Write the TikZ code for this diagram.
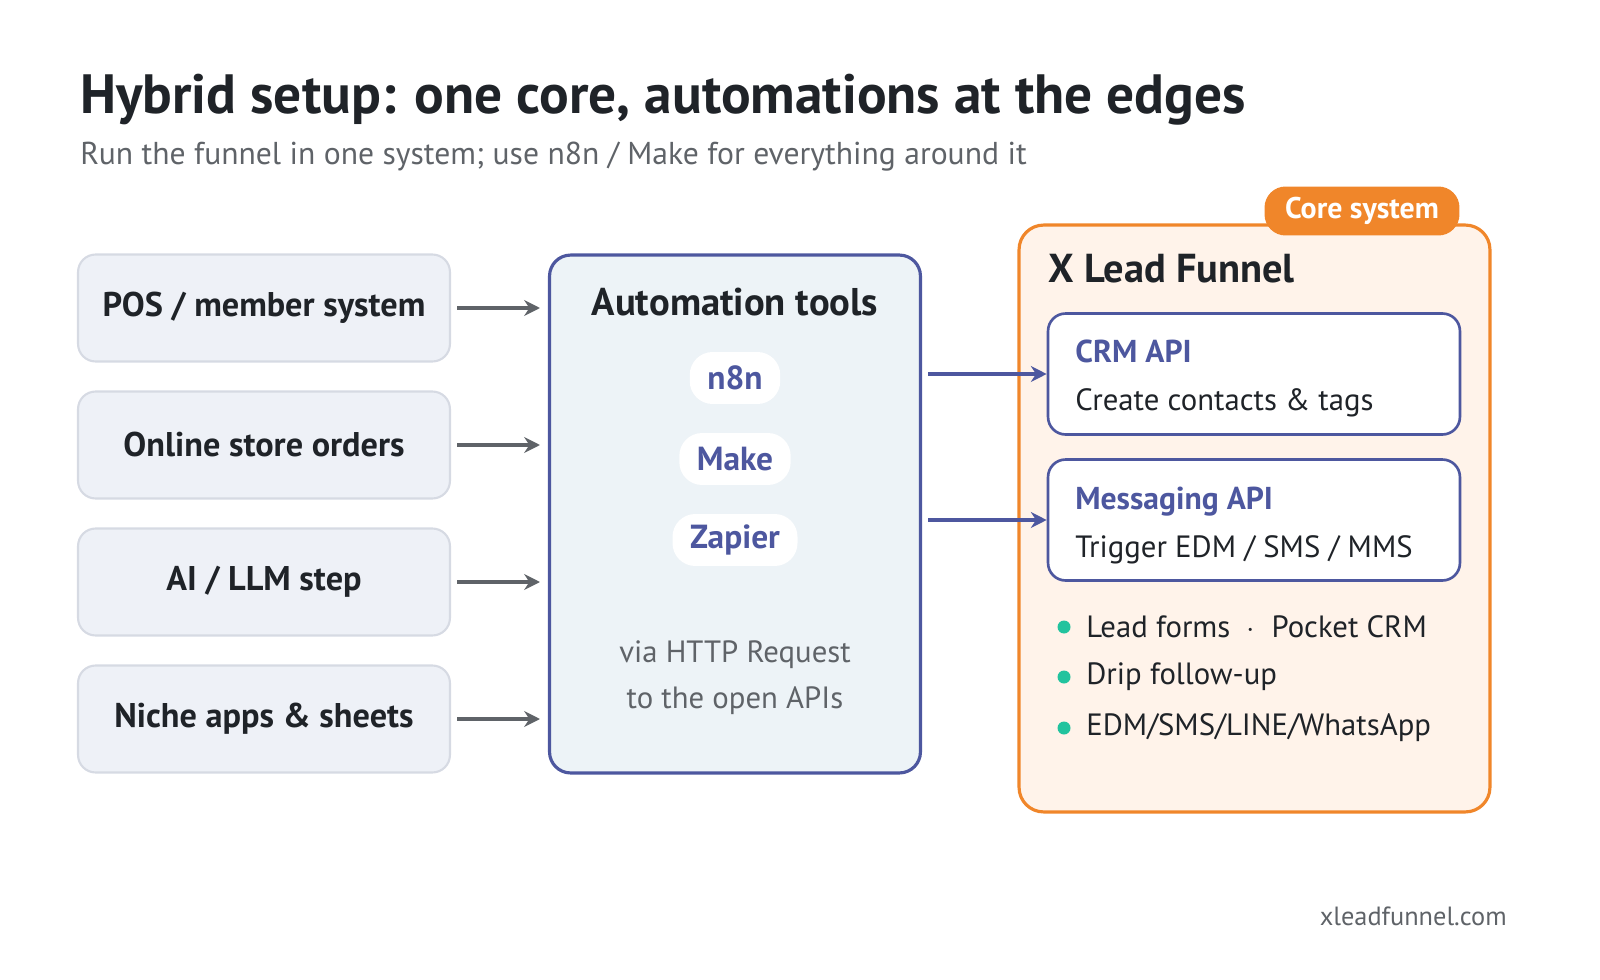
\documentclass[tikz,border=0pt]{standalone}
\usepackage{fontspec}
\setmainfont{PT Sans}
\usetikzlibrary{positioning,arrows.meta}
\definecolor{ink}{HTML}{1F2328}
\definecolor{greytxt}{HTML}{5F6368}
\definecolor{srcfill}{HTML}{EEF1F7}
\definecolor{srcline}{HTML}{D6DAE3}
\definecolor{autofill}{HTML}{EDF3F7}
\definecolor{indigo}{HTML}{4D579F}
\definecolor{corefill}{HTML}{FFF3EA}
\definecolor{coreline}{HTML}{F0862A}
\definecolor{dotgreen}{HTML}{22C39E}
\tikzset{
  src/.style={draw=srcline, line width=1.2pt, fill=srcfill, rounded corners=10pt,
    minimum width=7.44cm, minimum height=2.14cm, font=\fontsize{19.5}{22}\selectfont\bfseries, text=ink},
  pill/.style={fill=white, rounded corners=13pt, minimum height=1.04cm, inner xsep=10pt,
    font=\fontsize{19}{22}\selectfont\bfseries, text=indigo},
  api/.style={draw=indigo, line width=1.5pt, fill=white, rounded corners=10pt,
    minimum width=8.24cm, minimum height=2.42cm},
  garrow/.style={draw=greytxt, line width=2.2pt, -{Stealth[length=9pt,width=9pt]}},
  barrow/.style={draw=indigo, line width=2.2pt, -{Stealth[length=9pt,width=9pt]}},
  body/.style={font=\fontsize{17.5}{21}\selectfont, text=ink, anchor=base west},
}
\begin{document}
\begin{tikzpicture}[x=0.02cm,y=-0.02cm]
\useasboundingbox (0,0) rectangle (1600,980);
% heading
\node[anchor=base west, inner sep=0, font=\fontsize{31.5}{36}\selectfont\bfseries, text=ink] (title) at (80,113) {Hybrid setup: one core, automations at the edges};
\node[anchor=base west, inner sep=0, font=\fontsize{18}{21}\selectfont, text=greytxt] (subtitle) at (80,165) {Run the funnel in one system; use n8n / Make for everything around it};
% sources
\node[src] (pos) at (264,308) {POS / member system};
\node[src] (store) at (264,445) {Online store orders};
\node[src] (ai) at (264,582) {AI / LLM step};
\node[src] (niche) at (264,719) {Niche apps \& sheets};
% automation tools
\node[draw=indigo, line width=1.8pt, fill=autofill, rounded corners=12pt, minimum width=7.42cm, minimum height=10.36cm] (auto) at (735,514) {};
\node[font=\fontsize{22}{26}\selectfont\bfseries, text=ink] (autotitle) at (735,302) {Automation tools};
\node[pill] (n8n) at (735,378) {n8n};
\node[pill] (make) at (735,459) {Make};
\node[pill] (zapier) at (735,540) {Zapier};
\node[align=center, font=\fontsize{17.5}{26}\selectfont, text=greytxt] (http) at (735,678) {via HTTP Request\\to the open APIs};
\foreach \s/\y in {pos/308,store/445,ai/582,niche/719}
  \draw[garrow] (\s.east) ++(6,0) coordinate (\s-out) -- (540,\y) coordinate (\s-in);
% core system
\node[draw=coreline, line width=1.8pt, fill=corefill, rounded corners=14pt, minimum width=9.42cm, minimum height=11.74cm] (core) at (1254.5,518.5) {};
\node[fill=coreline, rounded corners=12pt, minimum width=3.9cm, minimum height=0.98cm, text=white, font=\fontsize{17}{20}\selectfont\bfseries] (badge) at (1362,211) {Core system};
\node[anchor=base west, inner sep=0, font=\fontsize{23}{26}\selectfont\bfseries, text=ink] (brand) at (1048,282) {X Lead Funnel};
\node[api] (crm) at (1254,374) {};
\node[anchor=base west, inner sep=0, font=\fontsize{18}{21}\selectfont\bfseries, text=indigo] (crmtitle) at (1075,362) {CRM API};
\node[body, inner sep=0] (crmtext) at (1075,410) {Create contacts \& tags};
\node[api] (msg) at (1254,520) {};
\node[anchor=base west, inner sep=0, font=\fontsize{18}{21}\selectfont\bfseries, text=indigo] (msgtitle) at (1075,509) {Messaging API};
\node[body, inner sep=0] (msgtext) at (1075,557) {Trigger EDM / SMS / MMS};
\draw[barrow] (auto.east |- crm) ++(6,0) -- (crm.west);
\draw[barrow] (auto.east |- msg) ++(6,0) -- (msg.west);
% feature list
\foreach \t/\y [count=\i] in {{Lead forms \ $\cdot$\ \ Pocket CRM}/627,{Drip follow-up}/677,{EDM/SMS/LINE/WhatsApp}/728}{
  \fill[dotgreen] (1064,\y) circle (6.5);
  \node[body, inner sep=0, anchor=west] (feat\i) at (1086,\y) {\t};
}
\node[anchor=base east, inner sep=0, font=\fontsize{15}{18}\selectfont, text=greytxt] (site) at (1507,925) {xleadfunnel.com};
\end{tikzpicture}
\end{document}
